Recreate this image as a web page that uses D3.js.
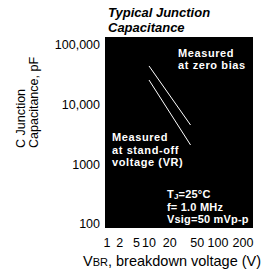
<!DOCTYPE html>
<html>
<head>
<meta charset="utf-8">
<script src="https://cdn.jsdelivr.net/npm/d3@7"></script>
<style>
  body { margin: 0; background: #fff; }
  svg { display: block; font-family: "Liberation Sans", Arial, sans-serif; }
  .tick-label { font-size: 12.5px; fill: #000; }
  .note { font-size: 11px; font-weight: bold; fill: #fff; letter-spacing: 0.6px; }
</style>
</head>
<body>
<svg></svg>
<script>
const width = 264;
const height = 273;

// Datos
const xTicks = [1, 2, 5, 10, 20, 50, 100, 200];
const yTicks = [100, 1000, 10000, 100000];
const yTickLabels = ["100", "1000", "10,000", "100,000"];
const voltage = [10, 40];
const zeroBias = [44500, 4560];
const standOff = [25900, 2110];

const svg = d3.select("svg").attr("width", width).attr("height", height);

// Escala X (log por tramos, como en el original)
const x = d3.scaleLog()
  .domain([1, 10, 100, 200])
  .range([107, 149, 218, 243]);

// Escala Y
const y = d3.scaleLog()
  .domain([100, 100000])
  .range([224, 45]);

// Fondo negro del área de trazado
svg.append("rect")
  .attr("x", x(1) - 2)
  .attr("y", y(100000) - 8)
  .attr("width", x(200) + 10 - (x(1) - 2))
  .attr("height", y(100) + 4 - (y(100000) - 8))
  .attr("fill", "#000");

// Etiquetas eje Y
svg.append("g")
  .selectAll("text")
  .data(yTicks)
  .join("text")
  .attr("class", "tick-label")
  .attr("x", 100)
  .attr("y", d => y(d))
  .attr("dy", "0.35em")
  .attr("text-anchor", "end")
  .text((d, i) => yTickLabels[i]);

// Etiquetas eje X
svg.append("g")
  .selectAll("text")
  .data(xTicks)
  .join("text")
  .attr("class", "tick-label")
  .attr("x", d => x(d))
  .attr("y", 247)
  .attr("text-anchor", "middle")
  .text(d => d);

// Líneas
const line = d3.line().x((d, i) => x(voltage[i])).y(d => y(d));
[zeroBias, standOff].forEach(s => {
  svg.append("path")
    .attr("d", line(s))
    .attr("fill", "none")
    .attr("stroke", "#fff")
    .attr("stroke-width", 1);
});

// Textos dentro del gráfico
function lines(xp, y0, dy, arr) {
  const t = svg.append("text").attr("class", "note");
  arr.forEach((s, i) => {
    t.append("tspan").attr("x", xp).attr("y", y0 + i * dy).text(s);
  });
  return t;
}
lines(178, 57, 12, ["Measured", "at zero bias"]);
lines(112, 141, 12.5, ["Measured", "at stand-off", "voltage (VR)"]);

const tj = svg.append("text").attr("class", "note")
  .style("letter-spacing", "0.2px")
  .attr("x", 167).attr("y", 198);
tj.append("tspan").text("T");
tj.append("tspan").attr("font-size", "8px").attr("baseline-shift", "-1").text("J");
tj.append("tspan").text("=25°C");
lines(167, 211, 12, ["f= 1.0 MHz", "Vsig=50 mVp-p"]).style("letter-spacing", "0.2px");

// Título
const title = svg.append("text")
  .attr("font-size", 13)
  .attr("font-weight", "bold")
  .attr("font-style", "italic");
title.append("tspan").attr("x", 108).attr("y", 17).text("Typical Junction");
title.append("tspan").attr("x", 108).attr("y", 32).text("Capacitance");

// Etiqueta eje Y
const yl = svg.append("text")
  .attr("transform", "rotate(-90)")
  .attr("font-size", 12.5);
yl.append("tspan").attr("x", -148).attr("y", 25).text("C Junction");
yl.append("tspan").attr("x", -148).attr("y", 38).text("Capacitance, pF");

// Etiqueta eje X
const xl = svg.append("text")
  .attr("x", 83)
  .attr("y", 266)
  .attr("font-size", 14.5);
xl.append("tspan").text("V");
xl.append("tspan").attr("font-size", 11).text("BR");
xl.append("tspan").text(", breakdown voltage (V)");
</script>
</body>
</html>
